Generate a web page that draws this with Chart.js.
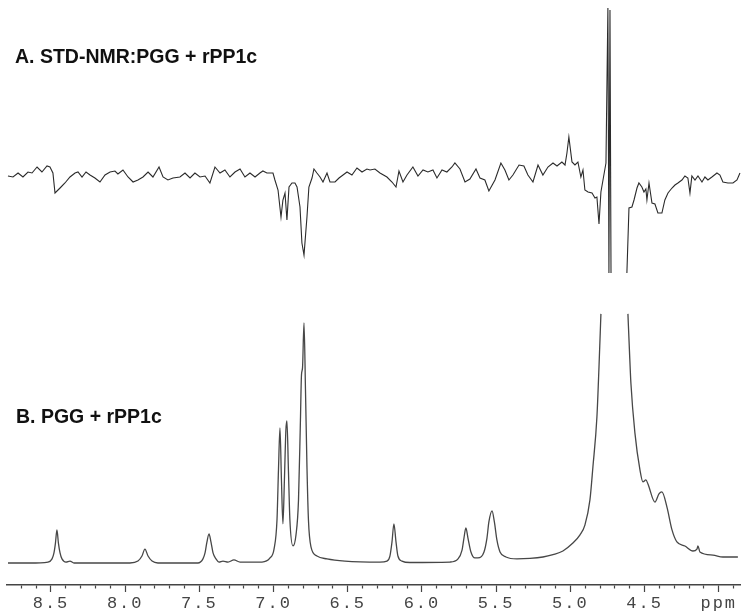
<!DOCTYPE html>
<html lang="en">
<head>
<meta charset="UTF-8">
<title>STD-NMR: PGG + rPP1c</title>
<script src="https://cdn.jsdelivr.net/npm/chart.js"></script>
<style>
  body { margin: 0; background: #fff; }
  #wrap { position: relative; width: 741px; height: 616px; }
</style>
</head>
<body>
<div id="wrap"><canvas id="nmr"></canvas></div>
<script>
// chemical shift range shown on the axis (ppm, drawn high -> low)
const ppmMin = 3.85;
const ppmMax = 8.7965;
const majorStep = 0.5;
const minorStep = 0.1;

const labelA = "A. STD-NMR:PGG + rPP1c";
const labelB = "B. PGG + rPP1c";

// A: STD difference spectrum (arbitrary units, baseline 0); null = off-scale part
const ppmA = [8.790, 8.756, 8.722, 8.689, 8.655, 8.628, 8.594, 8.561, 8.527, 8.507,
  8.487, 8.473, 8.439, 8.406, 8.372, 8.338, 8.318, 8.291, 8.264, 8.237,
  8.204, 8.170, 8.136, 8.102, 8.069, 8.049, 8.015, 7.981, 7.947, 7.914,
  7.880, 7.846, 7.813, 7.772, 7.745, 7.712, 7.678, 7.631, 7.597, 7.563,
  7.530, 7.496, 7.462, 7.429, 7.395, 7.361, 7.328, 7.294, 7.260, 7.226,
  7.193, 7.159, 7.125, 7.092, 7.072, 7.045, 7.004, 6.991, 6.970, 6.950,
  6.937, 6.923, 6.910, 6.896, 6.876, 6.856, 6.842, 6.822, 6.809, 6.795,
  6.775, 6.762, 6.741, 6.728, 6.708, 6.687, 6.667, 6.640, 6.620, 6.586,
  6.559, 6.532, 6.505, 6.472, 6.438, 6.404, 6.371, 6.350, 6.317, 6.283,
  6.236, 6.202, 6.175, 6.155, 6.128, 6.101, 6.061, 6.027, 5.993, 5.960,
  5.926, 5.899, 5.865, 5.832, 5.798, 5.778, 5.744, 5.710, 5.677, 5.636,
  5.609, 5.576, 5.549, 5.508, 5.468, 5.441, 5.414, 5.387, 5.346, 5.313,
  5.286, 5.252, 5.218, 5.185, 5.151, 5.117, 5.090, 5.057, 5.036, 5.023,
  5.010, 4.989, 4.969, 4.949, 4.929, 4.915, 4.902, 4.881, 4.854, 4.834,
  4.821, 4.807, 4.794, 4.780, 4.760, 4.747, 4.740, 4.733, 4.726, 4.672,
  4.619, 4.605, 4.585, 4.571, 4.551, 4.538, 4.518, 4.504, 4.491, 4.484,
  4.470, 4.450, 4.430, 4.410, 4.383, 4.363, 4.342, 4.315, 4.295, 4.275,
  4.248, 4.228, 4.208, 4.194, 4.181, 4.160, 4.140, 4.113, 4.093, 4.073,
  4.046, 4.012, 3.992, 3.972, 3.938, 3.904, 3.877, 3.857];
const intA = [2, 1, 5, 1, 6, 5, 11, 6, 12, 11,
  5, -15, -10, -5, 1, 5, 6, 1, 6, 3,
  0, -4, 3, 6, 7, 4, 8, 1, -4, -2,
  1, 6, 1, 11, 1, -2, 0, 1, 5, 0,
  5, 1, 2, -5, 11, 5, 8, 1, 6, 9,
  1, 5, 1, 5, 7, 5, 5, -2, -12, -39,
  -22, -15, -42, -9, -5, -5, -9, -29, -65, -77,
  -39, -9, 0, 9, 5, 1, -4, 5, -4, -4,
  0, 3, 6, 3, 10, 6, 9, 8, 9, 5,
  1, -4, -9, 7, -4, 3, 11, 2, 8, 6,
  8, 0, 8, 6, 11, 15, 9, -4, -1, 9,
  0, -2, -13, -2, 15, 8, -2, 3, 13, 12,
  3, -4, 13, 3, 11, 15, 12, 16, 13, 25,
  41, 16, 13, 16, 1, 8, -12, -14, -15, -20,
  -19, -46, -14, -2, 15, 170, -95, 168, -95, null,
  -95, -30, -29, -22, -10, -5, -9, -14, -11, -22,
  -5, -25, -26, -35, -35, -22, -15, -10, -7, -5,
  -2, 2, 0, -15, 2, -2, 2, -4, 1, -2,
  1, 5, 3, -4, -5, -5, -2, 5];

// B: reference 1H spectrum, % of the 6.80 ppm peak; water peak runs off scale
const ppmB = [8.790, 8.642, 8.520, 8.493, 8.480, 8.470, 8.460, 8.450, 8.439, 8.426,
  8.399, 8.372, 8.345, 7.968, 7.914, 7.887, 7.867, 7.846, 7.819, 7.779,
  7.510, 7.476, 7.462, 7.449, 7.435, 7.422, 7.408, 7.388, 7.368, 7.341,
  7.307, 7.267, 7.226, 7.078, 7.024, 6.997, 6.977, 6.967, 6.957, 6.947,
  6.937, 6.927, 6.917, 6.910, 6.900, 6.890, 6.869, 6.849, 6.832, 6.819,
  6.812, 6.805, 6.795, 6.785, 6.775, 6.765, 6.748, 6.708, 6.640, 6.519,
  6.283, 6.236, 6.216, 6.202, 6.189, 6.175, 6.162, 6.135, 6.081, 5.811,
  5.757, 5.730, 5.717, 5.704, 5.690, 5.670, 5.643, 5.623, 5.582, 5.562,
  5.549, 5.528, 5.512, 5.495, 5.474, 5.434, 5.360, 5.272, 5.185, 5.117,
  5.050, 4.983, 4.935, 4.902, 4.868, 4.848, 4.821, 4.807, 4.794, 4.703,
  4.612, 4.602, 4.592, 4.565, 4.531, 4.511, 4.491, 4.477, 4.430, 4.403,
  4.383, 4.349, 4.315, 4.282, 4.228, 4.174, 4.147, 4.140, 4.127, 4.039,
  3.972, 3.871];
const intB = [0, 0, 0.4, 1.7, 4.2, 8.3, 13.8, 8.3, 4.2, 1.7,
  0.4, 0.8, 0, 0, 0.8, 2.9, 5.8, 2.9, 0.8, 0,
  0, 1.7, 4.2, 8.8, 12.1, 8.8, 4.2, 1.7, 0.4, 0.8,
  0.4, 1.3, 0.4, 0.4, 2.1, 5.8, 17.9, 38.8, 56.3, 34.6,
  16.3, 34.6, 55.4, 59.2, 38.8, 17.9, 7.1, 11.7, 26.3, 59.6,
  78.3, 81.3, 100, 72.1, 40.0, 17.9, 6.7, 2.9, 1.7, 0.8,
  0.4, 0.8, 2.9, 8.8, 16.3, 8.8, 2.9, 0.8, 0.2, 0.4,
  1.7, 5.4, 10.4, 14.6, 10.4, 4.6, 2.1, 2.1, 4.6, 10.4,
  17.1, 21.7, 17.1, 9.6, 4.6, 2.5, 1.7, 1.9, 2.5, 3.5,
  5.0, 8.3, 11.7, 15.8, 26.3, 40.0, 60.8, 81.7, 103.8, null,
  103.8, 88.8, 75.0, 54.2, 38.8, 33.8, 34.6, 32.9, 25.4, 28.8,
  29.6, 23.3, 13.8, 8.8, 7.1, 5.0, 5.8, 7.1, 4.6, 3.3,
  2.5, 2.5];

function isMajor(v) {
  return Math.abs(v / majorStep - Math.round(v / majorStep)) < 1e-6;
}

// axis labels are spread out like the original Courier labels
const labelSpacing = {
  id: 'labelSpacing',
  beforeDraw(chart) { chart.ctx.letterSpacing = '2px'; }
};

const panelLabels = {
  id: 'panelLabels',
  afterDraw(chart) {
    const ctx = chart.ctx;
    ctx.save();
    ctx.letterSpacing = '0px';
    ctx.font = 'bold 19.5px "Liberation Sans", Arial, sans-serif';
    ctx.fillStyle = '#111';
    ctx.textBaseline = 'alphabetic';
    ctx.fillText(labelA, 15, 63);
    ctx.fillText(labelB, 16, 423);
    ctx.restore();
  }
};

new Chart(document.getElementById('nmr'), {
  type: 'line',
  data: {
    datasets: [
      {
        label: 'STD',
        data: ppmA.map((p, i) => ({ x: p, y: intA[i] })),
        yAxisID: 'yA',
        borderColor: '#2b2b2b',
        borderWidth: 1.1,
        pointRadius: 0,
        tension: 0,
        spanGaps: false
      },
      {
        label: 'reference',
        data: ppmB.map((p, i) => ({ x: p, y: intB[i] })),
        yAxisID: 'yB',
        borderColor: '#474747',
        borderWidth: 1.3,
        pointRadius: 0,
        cubicInterpolationMode: 'monotone',
        spanGaps: false
      }
    ]
  },
  options: {
    responsive: true,
    maintainAspectRatio: false,
    animation: false,
    events: [],
    layout: { padding: { left: 7, right: 0, top: 0, bottom: 0 } },
    plugins: { legend: { display: false }, tooltip: { enabled: false } },
    scales: {
      x: {
        type: 'linear',
        position: 'bottom',
        reverse: true,
        min: ppmMin,
        max: ppmMax,
        afterFit: (scale) => { scale.height = 31; },
        border: { display: true, color: '#444', width: 1.5 },
        grid: {
          display: true,
          drawOnChartArea: false,
          drawTicks: true,
          tickLength: 7,
          tickWidth: 1.2,
          tickColor: '#444',
          tickBorderDash: (ctx) => (ctx.tick && isMajor(ctx.tick.value)) ? [] : [3, 20]
        },
        ticks: {
          stepSize: minorStep,
          includeBounds: false,
          autoSkip: false,
          maxRotation: 0,
          minRotation: 0,
          padding: 1,
          color: '#444',
          font: { family: '"Liberation Mono", "Courier New", monospace', size: 17 },
          callback: (v) => {
            if (!isMajor(v)) return '';
            if (Math.abs(v - 4) < 1e-6) return 'ppm';
            return v.toFixed(1);
          }
        }
      },
      yA: { type: 'linear', display: false, min: -407, max: 178 },
      yB: { type: 'linear', display: false, min: -9.17, max: 234.58 }
    }
  },
  plugins: [labelSpacing, panelLabels]
});
</script>
</body>
</html>
